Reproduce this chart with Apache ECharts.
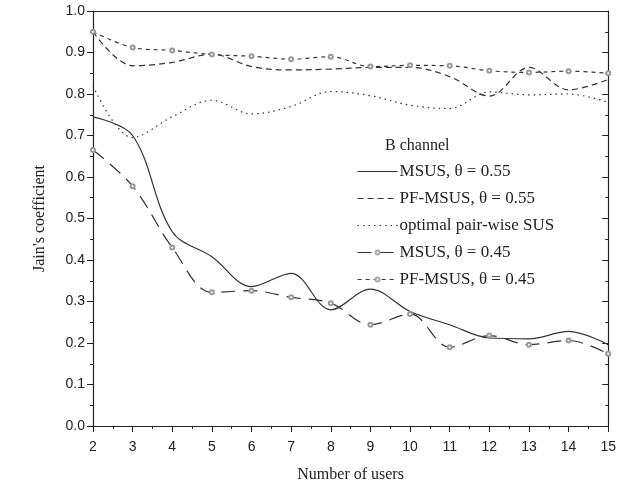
<!DOCTYPE html>
<html><head><meta charset="utf-8">
<script src="https://cdn.jsdelivr.net/npm/echarts@6/dist/echarts.min.js"></script>
<style>html,body{margin:0;padding:0;background:#fff}#c{width:619px;height:493px}</style>
</head><body><div id="c"></div>
<script>
const users = [2,3,4,5,6,7,8,9,10,11,12,13,14,15];
const msus055 = [0.745,0.70,0.468,0.408,0.336,0.368,0.28,0.33,0.276,0.244,0.212,0.21,0.228,0.196];
const pfmsus055 = [0.95,0.868,0.876,0.896,0.866,0.858,0.86,0.864,0.864,0.842,0.795,0.864,0.81,0.835];
const optimalSUS = [0.82,0.695,0.745,0.785,0.752,0.77,0.806,0.796,0.773,0.765,0.805,0.798,0.80,0.78];
const msus045 = [0.665,0.578,0.43,0.322,0.326,0.31,0.296,0.244,0.27,0.19,0.218,0.196,0.206,0.174];
const pfmsus045 = [0.95,0.912,0.905,0.895,0.891,0.884,0.89,0.866,0.869,0.868,0.856,0.852,0.855,0.85];
const names = ['MSUS, θ = 0.55','PF-MSUS, θ = 0.55','optimal pair-wise SUS','MSUS, θ = 0.45','PF-MSUS, θ = 0.45'];
const dashes = ['solid',[6,4],[1.5,4],[14,8],[4,4]];
const hasMarker = [false,false,false,true,true];

const pair = arr => users.map((u,i)=>[u,arr[i]]);
const lineCol = '#333';
const serif = "'Liberation Serif', 'Times New Roman', serif";
const sans = "'Liberation Sans', Arial, sans-serif";

function mk(i, arr){
  return {
    name:names[i], type:'line', data: pair(arr), smooth: 0.35,
    symbol: hasMarker[i] ? 'emptyCircle' : 'none', showSymbol: hasMarker[i], symbolSize: 4,
    itemStyle:{color:'#999', borderColor:'#999', borderWidth:1},
    lineStyle:{color:lineCol, width:1.2, type: dashes[i]},
    xAxisIndex:0, yAxisIndex:0, z: 2
  };
}

const legendData = names.map((n,i)=>({
  name:n,
  lineStyle:{type:dashes[i], color:lineCol, width:1.2},
  itemStyle: hasMarker[i]
    ? {color:'#aaa', borderColor:'#aaa', borderWidth:1}
    : {color:'rgba(0,0,0,0)', borderColor:'rgba(0,0,0,0)', borderWidth:0}
}));

const chart = echarts.init(document.getElementById('c'));
chart.setOption({
  animation:false,
  grid:{left:93, right:7, top:11, bottom:67},
  xAxis:[{
    type:'value', min:2, max:15, interval:1,
    name:'Number of users', nameLocation:'middle', nameGap:41,
    nameTextStyle:{fontFamily:serif, fontSize:16, color:'#222'},
    axisLine:{lineStyle:{color:'#222', width:1.2}},
    axisTick:{inside:false, length:6, lineStyle:{color:'#222'}},
    minorTick:{show:true, splitNumber:2, length:3, lineStyle:{color:'#222'}},
    axisLabel:{fontFamily:sans, fontSize:14, color:'#222', margin:14},
    splitLine:{show:false}
  },{
    type:'value', min:2, max:15, interval:1, position:'top',
    axisLine:{show:true, onZero:false, lineStyle:{color:'#222', width:1.2}},
    axisTick:{show:false}, axisLabel:{show:false}, splitLine:{show:false}
  }],
  yAxis:[{
    type:'value', min:0, max:1, interval:0.1,
    name:"Jain's coefficient", nameLocation:'middle', nameGap:45,
    nameTextStyle:{fontFamily:serif, fontSize:16, color:'#222'},
    axisLine:{show:true, lineStyle:{color:'#222', width:1.2}},
    axisTick:{show:true, inside:false, length:6, lineStyle:{color:'#222'}},
    minorTick:{show:true, splitNumber:2, length:3, lineStyle:{color:'#222'}},
    axisLabel:{fontFamily:sans, fontSize:14, color:'#222', margin:8, formatter:v=>v.toFixed(1)},
    splitLine:{show:false}
  },{
    type:'value', min:0, max:1, interval:0.1, position:'right',
    axisLine:{show:true, onZero:false, lineStyle:{color:'#222', width:1.2}},
    axisTick:{show:true, inside:true, length:6, lineStyle:{color:'#222'}},
    minorTick:{show:true, splitNumber:2, length:3, lineStyle:{color:'#222'}},
    axisLabel:{show:false}, splitLine:{show:false}
  }],
  title:{text:'B channel', left:380, top:133,
    textStyle:{fontFamily:serif, fontSize:16, fontWeight:'normal', color:'#222'}},
  legend:{
    orient:'vertical', left:352, top:158, itemGap:10, itemWidth:40, itemHeight:5,
    data:legendData,
    textStyle:{fontFamily:serif, fontSize:17, color:'#222', padding:[0,0,0,-3]},
    inactiveColor:'#ccc'
  },
  series: [msus055, pfmsus055, optimalSUS, msus045, pfmsus045].map((a,i)=>mk(i,a))
});
</script></body></html>
